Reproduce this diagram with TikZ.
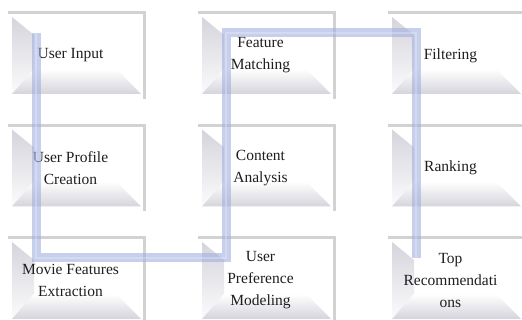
\documentclass[tikz,border=0pt]{standalone}
\usepackage{fontspec}
\setmainfont{Liberation Serif}
\usetikzlibrary{positioning,calc}
\definecolor{bandblue}{RGB}{160,175,222}
\definecolor{bevelgray}{RGB}{212,212,220}
\definecolor{rimgray}{RGB}{210,210,210}
\definecolor{textdark}{RGB}{30,30,30}

\begin{document}
\begin{tikzpicture}[
    x=1pt, y=-1pt,
    node distance=35.5pt and 61pt,
    lbl/.style={xshift=-6pt, align=center, inner sep=0pt, font=\fontsize{15.5}{22}\selectfont, text=textdark},
    box/.style={minimum width=129pt, minimum height=77pt, inner sep=0pt, outer sep=0pt, fill=white,
        label={[lbl]center:#1},
        path picture={
            \coordinate (pnw) at (path picture bounding box.north west);
            \coordinate (psw) at (path picture bounding box.south west);
            \coordinate (pse) at (path picture bounding box.south east);
            \shade[top color=bevelgray, bottom color=white!92!bevelgray]
                (pnw) -- ([shift={(22,18)}]pnw) -- ([shift={(22,-25)}]psw) -- (psw) -- cycle;
            \shade[top color=white, bottom color=bevelgray]
                (psw) -- ([shift={(22,-25)}]psw) -- ([shift={(-25,-25)}]pse) -- (pse) -- cycle;
        }},
    rim/.style={line width=3pt, draw=rimgray},
    band/.style={line width=9pt, draw=bandblue, draw opacity=0.6},
    shine/.style={line width=2pt, draw=white, draw opacity=0.25},
]
    \useasboundingbox (0,0) rectangle (522,320);

    % column 1
    \node[box={User Input}] (input) at (76.5,55.5) {};
    \node[box={User Profile\\Creation}, below=of input] (profile) {};
    \node[box={Movie Features\\Extraction}, below=of profile] (movie) {};
    % column 2
    \node[box={Feature\\Matching}, right=of input] (match) {};
    \node[box={Content\\Analysis}, below=of match] (content) {};
    \node[box={User\\Preference\\Modeling}, below=of content] (pref) {};
    % column 3
    \node[box={Filtering}, right=of match] (filter) {};
    \node[box={Ranking}, below=of filter] (rank) {};
    \node[box={Top\\Recommendati\\ons}, below=of rank] (top) {};

    \foreach \n in {input,profile,movie,match,content,pref,filter,rank,top}
        \draw[rim] ([shift={(-4,-4)}]\n.north west) -- ([shift={(3,-4)}]\n.north east) -- ([shift={(3,5)}]\n.south east);

    % snake connector
    \foreach \n/\c in {input/b1,movie/b2,pref/b3,match/b4,filter/b5,top/b6}
        \coordinate (\c) at ([shift={(24,16)}]\n.north west);
    \draw[band] (b1) -- (b2) -- (b3) -- (b4) -- (b5) -- (b6);
    \draw[shine] (b1) -- (b2) -- (b3) -- (b4) -- (b5) -- (b6);

\end{tikzpicture}
\end{document}
